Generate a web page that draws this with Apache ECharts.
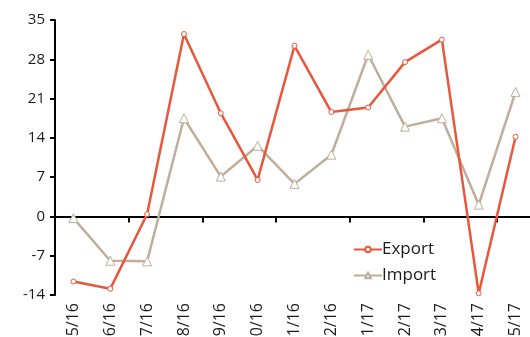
<!DOCTYPE html>
<html>
<head>
<meta charset="utf-8">
<script src="https://cdn.jsdelivr.net/npm/echarts@6/dist/echarts.min.js"></script>
<style>
  html, body { margin: 0; padding: 0; background: #fff; }
  #chart { width: 530px; height: 337px; }
</style>
</head>
<body>
<div id="chart"></div>
<script>
// Monthly change, % year on year
const months = ['5/16', '6/16', '7/16', '8/16', '9/16', '10/16', '11/16', '12/16', '1/17', '2/17', '3/17', '4/17', '5/17'];
const exportValues = [-11.6, -12.9, 0.4, 32.5, 18.4, 6.5, 30.4, 18.6, 19.4, 27.5, 31.5, -13.7, 14.2];
const importValues = [-0.3, -7.9, -8.0, 17.5, 7.1, 12.6, 5.8, 11.0, 28.8, 16.0, 17.5, 2.1, 22.2];
const yTicks = { min: -14, max: 35, interval: 7 };

const FONT = '"Open Sans", sans-serif';
const RED = '#e8573b';
const TAN = '#bfae9a';

const chart = echarts.init(document.getElementById('chart'), null, { renderer: 'canvas' });
chart.setOption({
  animation: false,
  backgroundColor: '#ffffff',
  grid: { left: 55, right: -4, top: 20, bottom: 42, containLabel: false, outerBoundsMode: 'none' },
  legend: {
    orient: 'vertical',
    left: 348,
    top: 236,
    itemWidth: 28,
    itemHeight: 7,
    itemGap: 9,
    textStyle: { fontFamily: FONT, fontSize: 17, color: '#1a1a1a', padding: [0, 0, 0, -5] },
    data: ['Export', 'Import']
  },
  xAxis: [
    {
      type: 'category',
      data: months,
      position: 'bottom',
      boundaryGap: true,
      axisLine: { show: true, onZero: true, lineStyle: { color: '#000', width: 2 } },
      axisTick: { show: true, length: 6, lineStyle: { color: '#000', width: 2 } },
      axisLabel: { show: false },
      splitLine: { show: false }
    },
    {
      type: 'category',
      data: months,
      position: 'bottom',
      boundaryGap: true,
      axisLine: { show: false, onZero: false },
      axisTick: { show: false },
      axisLabel: {
        show: true,
        rotate: 90,
        margin: 8,
        fontFamily: FONT,
        fontSize: 16,
        color: '#1a1a1a'
      },
      splitLine: { show: false }
    }
  ],
  yAxis: {
    type: 'value',
    min: yTicks.min,
    max: yTicks.max,
    interval: yTicks.interval,
    axisLine: { show: true, lineStyle: { color: '#000', width: 2 } },
    axisTick: { show: true, length: 5, lineStyle: { color: '#000', width: 2 } },
    axisLabel: { margin: 10, fontFamily: FONT, fontSize: 15, color: '#1a1a1a' },
    splitLine: { show: false }
  },
  series: [
    {
      name: 'Export',
      type: 'line',
      xAxisIndex: 0,
      data: exportValues,
      symbol: 'circle',
      symbolSize: 5,
      color: RED,
      lineStyle: { color: RED, width: 2.5 },
      itemStyle: { color: '#fff', borderColor: RED, borderWidth: 1 },
      z: 3
    },
    {
      name: 'Import',
      type: 'line',
      xAxisIndex: 0,
      data: importValues,
      symbol: 'triangle',
      symbolSize: 9,
      color: TAN,
      lineStyle: { color: TAN, width: 2.5 },
      itemStyle: { color: '#fff', borderColor: TAN, borderWidth: 1 },
      z: 2
    }
  ]
});
</script>
</body>
</html>
